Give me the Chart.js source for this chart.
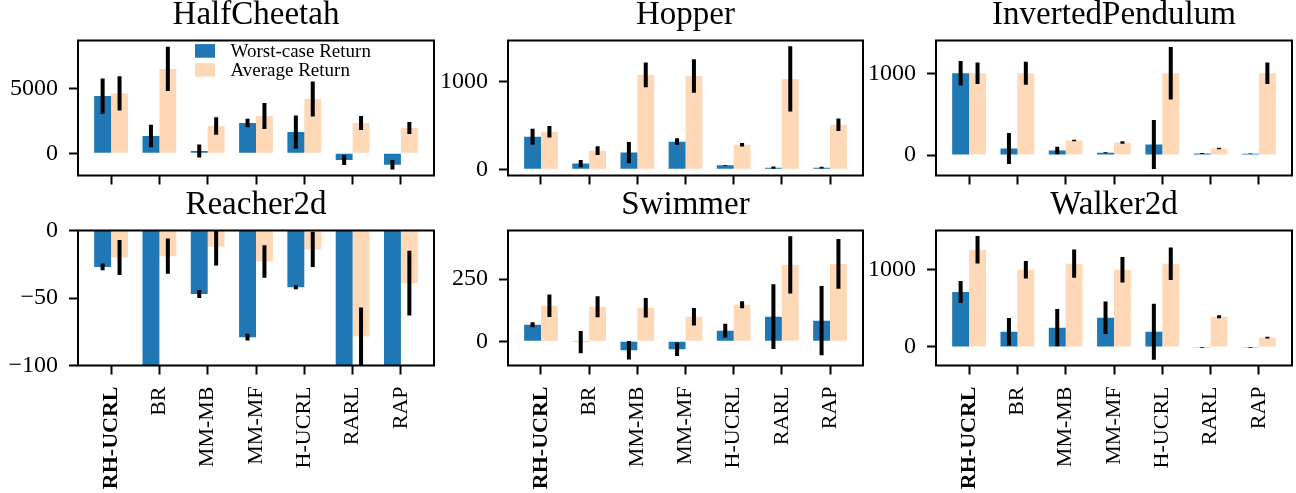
<!DOCTYPE html>
<html><head><meta charset="utf-8">
<script src="https://cdn.jsdelivr.net/npm/chart.js@4/dist/chart.umd.min.js"></script>
<style>
html,body{margin:0;padding:0;background:#fff;width:1296px;height:493px;overflow:hidden}
canvas{position:absolute}
</style></head><body>
<canvas id="k0" width="440" height="190" style="left:0px;top:0px"></canvas>
<canvas id="k1" width="434" height="190" style="left:436px;top:0px"></canvas>
<canvas id="k2" width="430" height="190" style="left:866px;top:0px"></canvas>
<canvas id="k3" width="440" height="303" style="left:0px;top:190px"></canvas>
<canvas id="k4" width="434" height="303" style="left:436px;top:190px"></canvas>
<canvas id="k5" width="430" height="303" style="left:866px;top:190px"></canvas>
<script>
// ---------------- DATA ----------------
const categories = ['RH-UCRL','BR','MM-MB','MM-MF','H-UCRL','RARL','RAP'];
const envNames = ['HalfCheetah','Hopper','InvertedPendulum','Reacher2d','Swimmer','Walker2d'];
const seriesNames = ['Worst-case Return','Average Return'];

const halfCheetahWorst    = [4400, 1330, 180, 2330, 1640, -510, -880];
const halfCheetahWorstErr = [1350, 870, 500, 320, 1270, 385, 360];
const halfCheetahAvg      = [4610, 6490, 2100, 2870, 4180, 2330, 1950];
const halfCheetahAvgErr   = [1310, 1700, 680, 1000, 1350, 540, 460];

const hopperWorst    = [370, 65, 190, 314, 45, 19, 19];
const hopperWorstErr = [90, 40, 120, 38, 5, 12, 10];
const hopperAvg      = [427, 212, 1073, 1061, 280, 1027, 506];
const hopperAvgErr   = [65, 50, 140, 190, 20, 370, 70];

const pendulumWorst    = [1000, 81, 57, 29, 130, 20, 16];
const pendulumWorstErr = [150, 190, 45, 6, 300, 5, 3];
const pendulumAvg      = [1000, 1000, 179, 154, 1000, 81, 1000];
const pendulumAvgErr   = [130, 140, 10, 15, 320, 10, 130];

const reacherWorst    = [-27, -120, -47, -79, -42, -120, -120];
const reacherWorstErr = [2.5, 5, 3, 2.5, 1.5, 5, 5];
const reacherAvg      = [-20, -19, -12, -23, -14, -78.5, -39];
const reacherAvgErr   = [13, 13, 14, 12, 13, 21.5, 24];

const swimmerWorst    = [67, -3, -36, -32, 43, 99, 83];
const swimmerWorstErr = [10, 45, 37, 27, 28, 130, 139];
const swimmerAvg      = [143, 139, 135, 99, 147, 307, 311];
const swimmerAvgErr   = [45, 42, 39, 35, 14, 115, 100];

const walkerWorst    = [711, 198, 250, 379, 198, -5, -5];
const walkerWorstErr = [142, 178, 240, 211, 362, 5, 5];
const walkerAvg      = [1259, 1000, 1078, 1000, 1078, 392, 121];
const walkerAvgErr   = [179, 114, 183, 164, 211, 20, 10];

const yLimits = [[-1710, 8680], [-70, 1463], [-249, 1400], [-100, 0], [-97, 445], [-240, 1508]];
const yTickValues = [[0, 5000], [0, 1000], [0, 1000], [-100, -50, 0], [0, 250], [0, 1000]];

const panelSeries = [
  [halfCheetahWorst, halfCheetahWorstErr, halfCheetahAvg, halfCheetahAvgErr],
  [hopperWorst, hopperWorstErr, hopperAvg, hopperAvgErr],
  [pendulumWorst, pendulumWorstErr, pendulumAvg, pendulumAvgErr],
  [reacherWorst, reacherWorstErr, reacherAvg, reacherAvgErr],
  [swimmerWorst, swimmerWorstErr, swimmerAvg, swimmerAvgErr],
  [walkerWorst, walkerWorstErr, walkerAvg, walkerAvgErr]
];

// ---------------- STYLE / LAYOUT ----------------
const FONT = "'Liberation Serif', 'Times New Roman', serif";
const BLUE = '#1f77b4';
const PEACH = 'rgb(255,217,183)';
const yAxisWidths = [78, 72, 70];
const rightPads = [6, 7, 4];
const xAxisHeights = [14.5, 127.5];

Chart.defaults.color = '#000';
Chart.defaults.font.family = FONT;

const fmt = v => v < 0 ? '\u2212' + Math.abs(v) : String(v);

const decor = {
  id: 'decor',
  afterDatasetsDraw(chart) {
    const ctx = chart.ctx, a = chart.chartArea, ys = chart.scales.y;
    ctx.save();
    ctx.beginPath();
    ctx.rect(a.left, a.top, a.right - a.left, a.bottom - a.top);
    ctx.clip();
    ctx.strokeStyle = '#000';
    ctx.lineWidth = 4;
    chart.data.datasets.forEach((ds, di) => {
      const meta = chart.getDatasetMeta(di);
      meta.data.forEach((el, i) => {
        const v = ds.data[i].y, e = ds.errors[i];
        ctx.beginPath();
        ctx.moveTo(el.x, ys.getPixelForValue(v + e));
        ctx.lineTo(el.x, ys.getPixelForValue(v - e));
        ctx.stroke();
      });
    });
    ctx.restore();
    ctx.save();
    ctx.strokeStyle = '#000';
    ctx.lineWidth = 2;
    ctx.strokeRect(a.left, a.top, a.right - a.left, a.bottom - a.top);
    ctx.restore();
  }
};

const legendPlugin = {
  id: 'innerLegend',
  afterDraw(chart) {
    if (!chart.options.plugins.innerLegend || !chart.options.plugins.innerLegend.show) return;
    const ctx = chart.ctx, a = chart.chartArea;
    ctx.save();
    ctx.font = "19px " + FONT;
    ctx.fillStyle = '#000';
    ctx.textBaseline = 'alphabetic';
    chart.data.datasets.forEach((ds, i) => {
      ctx.fillStyle = ds.backgroundColor;
      ctx.fillRect(a.left + 117, a.top + 3.6 + i * 19, 20, 13.6);
      ctx.fillStyle = '#000';
      ctx.fillText(ds.label, a.left + 152.5, a.top + 16.8 + i * 18.6);
    });
    ctx.restore();
  }
};

for (let p = 0; p < 6; p++) {
  const col = p % 3, row = Math.floor(p / 3);
  const [w, we, av, ae] = panelSeries[p];
  const yw = yAxisWidths[col], xh = xAxisHeights[row];
  new Chart(document.getElementById('k' + p), {
    type: 'bar',
    data: {
      datasets: [
        { label: seriesNames[0], data: w.map((v, i) => ({x: i, y: v})), errors: we,
          backgroundColor: BLUE, borderWidth: 0 },
        { label: seriesNames[1], data: av.map((v, i) => ({x: i, y: v})), errors: ae,
          backgroundColor: PEACH, borderWidth: 0 }
      ]
    },
    options: {
      responsive: false,
      animation: false,
      events: [],
      layout: { padding: { top: 0, left: 0, bottom: 0, right: rightPads[col] } },
      datasets: { bar: { categoryPercentage: 0.7, barPercentage: 1.0 } },
      plugins: {
        legend: { display: false },
        tooltip: { enabled: false },
        innerLegend: { show: p === 0 },
        title: {
          display: true, text: envNames[p], fullSize: false, color: '#000',
          font: { family: FONT, size: 33, weight: 'normal', lineHeight: 0.9 },
          padding: { top: 0, bottom: 10.8 }
        }
      },
      scales: {
        x: {
          type: 'linear', min: -0.685, max: 6.685, offset: false,
          afterBuildTicks: s => { s.ticks = categories.map((c, i) => ({ value: i })); },
          afterFit: s => { s.height = xh; s.paddingLeft = 0; s.paddingRight = 0; s.paddingTop = 0; s.paddingBottom = 0; },
          border: { display: false },
          grid: { display: true, offset: false, drawOnChartArea: false, drawTicks: true,
                  tickLength: 9, tickWidth: 2, color: '#000' },
          ticks: {
            display: row === 1, autoSkip: false, minRotation: 90, maxRotation: 90, padding: 12,
            color: '#000',
            callback: (v, i) => categories[i],
            font: ctx => ({ family: FONT, size: 22, weight: ctx.index === 0 ? 'bold' : 'normal' })
          }
        },
        y: {
          type: 'linear', min: yLimits[p][0], max: yLimits[p][1],
          afterBuildTicks: s => { s.ticks = yTickValues[p].map(v => ({ value: v })); },
          afterFit: s => { s.width = yw; s.paddingTop = 0; s.paddingBottom = 0; s.paddingLeft = 0; s.paddingRight = 0; },
          border: { display: false },
          grid: { display: true, drawOnChartArea: false, drawTicks: true,
                  tickLength: 9, tickWidth: 2, color: '#000' },
          ticks: { padding: 11, color: '#000', callback: v => fmt(v),
                   font: { family: FONT, size: 24 } }
        }
      }
    },
    plugins: [decor, legendPlugin]
  });
}
</script>
</body></html>
